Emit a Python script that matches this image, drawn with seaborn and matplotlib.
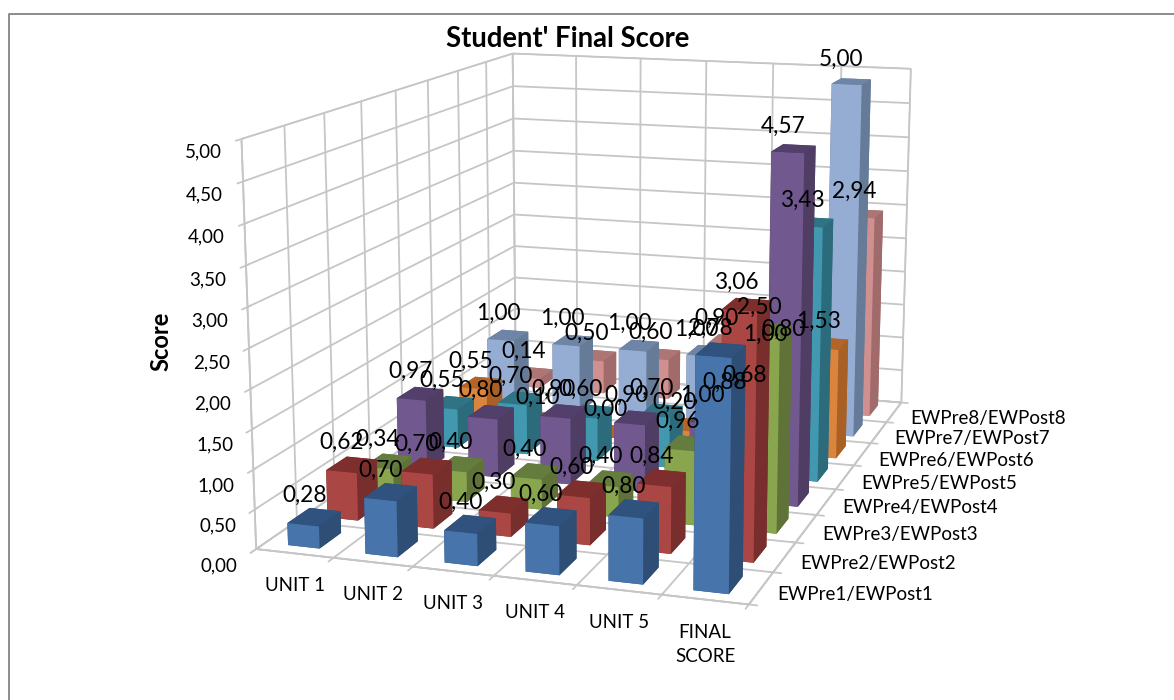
#---------------------------------------------------------------
# Student final score, Excel style 3D columns
#---------------------------------------------------------------
import matplotlib
matplotlib.use('Agg')
import matplotlib.pyplot as plt
from matplotlib.lines import Line2D
from mpl_toolkits.mplot3d import proj3d
import seaborn as sns

categories = ['UNIT 1', 'UNIT 2', 'UNIT 3', 'UNIT 4', 'UNIT 5', 'FINAL\nSCORE']
series_names = ['EWPre1/EWPost1', 'EWPre2/EWPost2', 'EWPre3/EWPost3', 'EWPre4/EWPost4',
                'EWPre5/EWPost5', 'EWPre6/EWPost6', 'EWPre7/EWPost7', 'EWPre8/EWPost8']
ew1 = [0.28, 0.70, 0.40, 0.60, 0.80, 2.78]
ew2 = [0.62, 0.70, 0.30, 0.60, 0.84, 3.06]
ew3 = [0.34, 0.40, 0.40, 0.40, 0.96, 2.50]
ew4 = [0.97, 0.80, 0.90, 0.90, 1.00, 4.57]
ew5 = [0.55, 0.70, 0.60, 0.70, 0.88, 3.43]
ew6 = [0.55, 0.10, 0.00, 0.20, 0.68, 1.53]
ew7 = [1.00, 1.00, 1.00, 1.00, 1.00, 5.00]
ew8 = [0.14, 0.50, 0.60, 0.90, 0.80, 2.94]
scores = [ew1, ew2, ew3, ew4, ew5, ew6, ew7, ew8]
front_colors = ['#4674AB', '#AA4643', '#89A54E', '#71588F', '#4198AF', '#DB843D', '#96ADD3', '#D09090']
side_colors = ['#2E4E75', '#772E2C', '#5F7338', '#4F3D64', '#2B6B7C', '#A86024', '#667B97', '#A06B6A']
top_colors = ['#30527E', '#7E2F2D', '#657C3F', '#533F6B', '#2F7385', '#B26527', '#6F85A8', '#AD7573']
score_ticks = [0, 0.5, 1, 1.5, 2, 2.5, 3, 3.5, 4, 4.5, 5]

GRID = '#c6c6c6'
BAR_W = 0.41
BAR_D = 0.55


#---------------------------------------------------------------
def comma(v):
    return f'{v:.2f}'.replace('.', ',')


#---------------------------------------------------------------
def label_at(ax, M, x, y, z, txt, dx = 0, dy = 0, **kw):
    px, py, _ = proj3d.proj_transform(x, y, z, M)
    ax.annotate(txt, xy = (px, py), xycoords = 'data', xytext = (dx, dy),
                textcoords = 'offset pixels', color = 'black', zorder = 500, **kw)


#---------------------------------------------------------------
def main():
    sns.set_theme(style = 'white', rc = {'grid.color': GRID, 'grid.linewidth': 1.3})
    plt.rcParams['font.family'] = ['Lato', 'DejaVu Sans']
    fig = plt.figure(figsize = (11.74, 7), dpi = 100)
    ax = fig.add_axes([0.014, 0.076, 1.0, 1.0], projection = '3d', computed_zorder = False)
    ax.patch.set_alpha(0)
    ax.set_proj_type('persp', focal_length = 0.6)
    ax.view_init(elev = 12.5, azim = -72)
    ax.set_box_aspect((0.97, 1.42, 0.79), zoom = 1.252)
    ax.set_xlim(0, 6)
    ax.set_ylim(0, 8)
    ax.set_zlim(0, 5)

    for axis in (ax.xaxis, ax.yaxis, ax.zaxis):
        axis.set_pane_color('white')
        axis.pane.set_edgecolor(GRID)
        axis.line.set_color(GRID)
    ax.set_xticks(range(len(categories) + 1))
    ax.set_yticks(range(len(series_names) + 1))
    ax.set_xticklabels([])
    ax.set_yticklabels([])
    ax.set_zticks(score_ticks)
    ax.set_zticklabels([comma(v) for v in score_ticks], fontsize = 13.5, color = 'black')
    ax.zaxis.set_ticks_position('lower')
    ax.zaxis.set_label_position('lower')
    ax.tick_params(colors = GRID, labelcolor = 'black')
    ax.zaxis.set_tick_params(pad = 4)

    # back to front so the nearer columns cover the others
    for s in range(len(scores) - 1, -1, -1):
        faces = [top_colors[s], top_colors[s], front_colors[s], side_colors[s], side_colors[s], side_colors[s]]
        for c, v in enumerate(scores[s]):
            x = c + (1 - BAR_W) / 2
            y = s + (1 - BAR_D) / 2
            ax.bar3d(x, y, 0, BAR_W, BAR_D, v, color = faces, shade = False, linewidth = 0,
                     zorder = 110 - s * 10 + c)

    M = ax.get_proj()
    for s in range(len(scores)):
        for c, v in enumerate(scores[s]):
            label_at(ax, M, c + 0.5, s + 0.5, v, comma(v), dx = -10, dy = 22, fontsize = 16.3,
                     ha = 'center', va = 'center')

    for c, name in enumerate(categories):
        label_at(ax, M, c + 0.5, 0, 0, name, dy = -24, fontsize = 13.5, ha = 'center', va = 'top',
                 linespacing = 1.5)
    for s, name in enumerate(series_names):
        label_at(ax, M, 6, s + 0.5, 0, name, dx = 16, dy = -6, fontsize = 13.5, ha = 'left', va = 'center')

    # outer frame of the chart, only the top and left are left in the image
    fig.add_artist(Line2D([9 / 1174, 9 / 1174, 1], [0, 1 - 14 / 700, 1 - 14 / 700],
                          color = '#8c8c8c', linewidth = 1.4, transform = fig.transFigure))
    fig.text(568 / 1174, 1 - 39 / 700, "Student' Final Score", fontsize = 19.8, fontweight = 'bold',
             color = 'black', ha = 'center', va = 'center')
    fig.text(161 / 1174, 1 - 341 / 700, 'Score', fontsize = 17, fontweight = 'bold', color = 'black',
             rotation = 90, ha = 'center', va = 'center')
    fig.savefig('out.png', dpi = 100)


#---------------------------------------------------------------
if __name__ == '__main__':
    main()
